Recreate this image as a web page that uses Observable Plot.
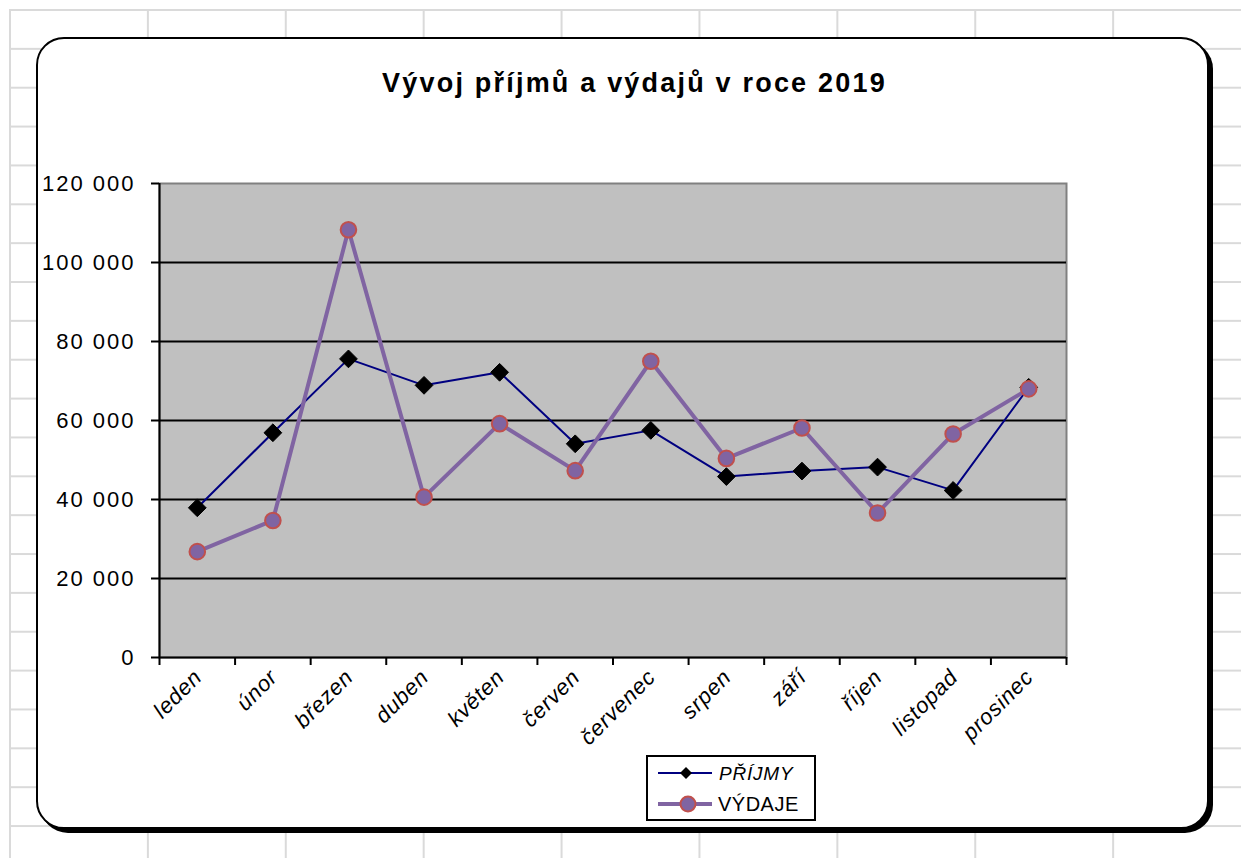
<!DOCTYPE html>
<html>
<head>
<meta charset="utf-8">
<script src="https://cdn.jsdelivr.net/npm/d3@7"></script>
<script src="https://cdn.jsdelivr.net/npm/@observablehq/plot@0.6"></script>
<style>
  body { margin: 0; background: #fff; font-family: "Liberation Sans", Arial, sans-serif; }
  #page { position: relative; width: 1241px; height: 858px; overflow: hidden; background: #fff; }
  #grid { position: absolute; left: 9px; top: 9px; right: 0; bottom: 0;
    background-image: linear-gradient(to right, #dadada 2px, transparent 2px),
                      linear-gradient(to bottom, #dadada 2px, transparent 2px);
    background-size: 137.9px 38.86px; }
  #box { position: absolute; left: 36px; top: 37px; width: 1173px; height: 792px; box-sizing: border-box;
    border: 2px solid #000; border-radius: 28px; background: #fff; box-shadow: 4px 4px 0 #000; }
  #title { position: absolute; left: 14px; top: 70px; width: 1241px; text-align: center; font-weight: bold;
    font-size: 27px; line-height: 27px; letter-spacing: 2.2px; color: #000; }
  #chart { position: absolute; left: 0; top: 0; }
  #chart [aria-label="y-axis tick label"] text { letter-spacing: 2px; }
  #chart .xlab text { letter-spacing: 0.8px; }
  #legend { position: absolute; left: 646px; top: 755px; width: 170px; height: 66px; box-sizing: border-box;
    border: 2px solid #000; background: #fff; }
  #legend svg { position: absolute; left: 0; top: 0; }
</style>
</head>
<body>
<div id="page">
  <div id="grid"></div>
  <div id="box"></div>
  <div id="title">Vývoj příjmů a výdajů v roce 2019</div>
  <div id="chart"></div>
  <div id="legend"></div>
</div>
<script>
const months = ["leden", "únor", "březen", "duben", "květen", "červen", "červenec", "srpen", "září", "říjen", "listopad", "prosinec"];
const prijmy = [37900, 56900, 75600, 68900, 72200, 54100, 57500, 45800, 47200, 48200, 42300, 68400];
const vydaje = [26800, 34700, 108300, 40600, 59200, 47300, 75000, 50400, 58100, 36600, 56600, 68000];
const yTicks = [0, 20000, 40000, 60000, 80000, 100000, 120000];
const gridTicks = [20000, 40000, 60000, 80000, 100000];
const seriesNames = ["PŘÍJMY", "VÝDAJE"];

const rows = months.map((m, i) => ({month: m, pos: i + 0.5, prijmy: prijmy[i], vydaje: vydaje[i]}));
const boundaries = d3.range(months.length + 1);
const fmt = d => d3.format(",")(d).replace(/,/g, " ");

const plot = Plot.plot({
  width: 1241,
  height: 858,
  marginLeft: 159,
  marginRight: 175,
  marginTop: 183,
  marginBottom: 201,
  style: {background: "transparent", fontFamily: "'Liberation Sans', Arial, sans-serif", color: "#000", overflow: "visible"},
  x: {domain: [0, months.length]},
  y: {domain: [0, 120000]},
  marks: [
    Plot.frame({fill: "#c0c0c0", stroke: "#808080", strokeWidth: 2}),
    Plot.ruleY(gridTicks, {stroke: "#000", strokeWidth: 2}),
    Plot.ruleY([0], {stroke: "#000", strokeWidth: 2}),
    Plot.ruleX([0], {stroke: "#000", strokeWidth: 2}),
    Plot.axisY(yTicks, {tickSize: 8, tickPadding: 16, fontSize: 22, tickFormat: fmt, label: null, strokeWidth: 2}),
    Plot.axisX(boundaries, {tickSize: 8, tickFormat: () => "", label: null, strokeWidth: 2}),
    Plot.text(rows, {x: "pos", y: () => 0, text: "month", rotate: -45, textAnchor: "end", dx: 1, dy: 16,
      fontSize: 22, fontStyle: "italic", fill: "#000", className: "xlab"}),
    Plot.line(rows, {x: "pos", y: "prijmy", stroke: "#000080", strokeWidth: 2}),
    Plot.dot(rows, {x: "pos", y: "prijmy", symbol: "diamond2", r: 8, fill: "#000", stroke: "#000", strokeWidth: 1}),
    Plot.line(rows, {x: "pos", y: "vydaje", stroke: "#8064a2", strokeWidth: 4}),
    Plot.dot(rows, {x: "pos", y: "vydaje", r: 7.8, fill: "#8064a2", stroke: "#c0504d", strokeWidth: 2})
  ]
});
document.getElementById("chart").appendChild(plot);

// legend
const lg = d3.select("#legend").append("svg").attr("width", 166).attr("height", 62);
const r1 = lg.append("g");
r1.append("line").attr("x1", 10).attr("x2", 64).attr("y1", 16).attr("y2", 16).attr("stroke", "#000080").attr("stroke-width", 2);
r1.append("path").attr("d", "M38,10L44,16L38,22L32,16Z").attr("fill", "#000");
r1.append("text").attr("x", 71).attr("y", 23).attr("font-size", 19).attr("font-style", "italic")
  .attr("font-family", "'Liberation Sans', Arial, sans-serif").attr("letter-spacing", "0.8px").text(seriesNames[0]);
const r2 = lg.append("g");
r2.append("line").attr("x1", 10).attr("x2", 64).attr("y1", 47).attr("y2", 47).attr("stroke", "#8064a2").attr("stroke-width", 4);
r2.append("circle").attr("cx", 40).attr("cy", 47).attr("r", 7.5).attr("fill", "#8064a2").attr("stroke", "#c0504d").attr("stroke-width", 2);
r2.append("text").attr("x", 70).attr("y", 54).attr("font-size", 20)
  .attr("font-family", "'Liberation Sans', Arial, sans-serif").attr("letter-spacing", "0.5px").text(seriesNames[1]);
</script>
</body>
</html>
